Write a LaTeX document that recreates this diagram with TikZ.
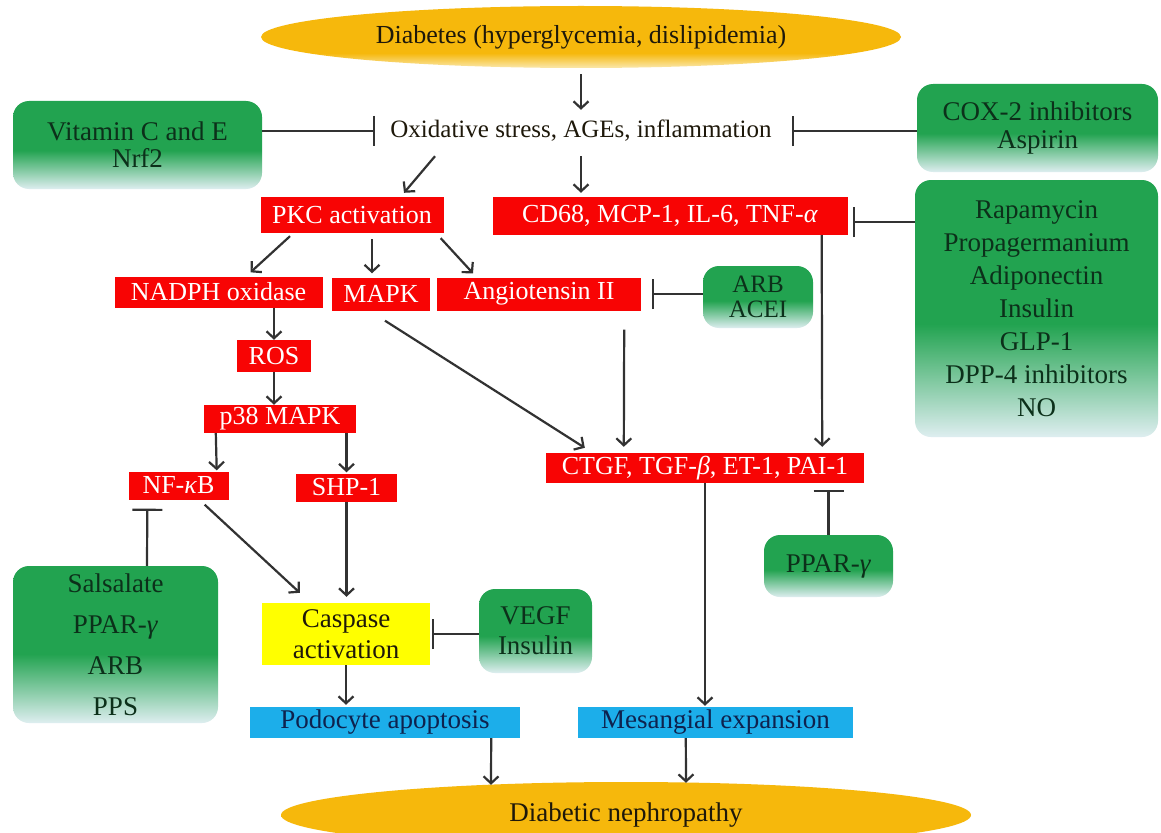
\documentclass[tikz,border=0pt]{standalone}
\usepackage{fontspec}
\setmainfont{Liberation Serif}
\usetikzlibrary{arrows.meta,calc,shapes.geometric}
\definecolor{gmain}{RGB}{34,163,80}
\definecolor{glight}{RGB}{222,238,240}
\definecolor{gtext}{RGB}{12,48,26}
\definecolor{boxred}{RGB}{248,4,4}
\definecolor{boxblue}{RGB}{28,174,234}
\definecolor{bluetext}{RGB}{14,34,78}
\definecolor{boxyellow}{RGB}{255,255,0}
\definecolor{gold}{RGB}{246,184,12}
\definecolor{goldlight}{RGB}{250,228,160}
\definecolor{linec}{RGB}{50,50,50}
\definecolor{darktext}{RGB}{30,24,10}
\pgfdeclareverticalshading{gfade}{100bp}{color(0bp)=(glight); color(25bp)=(glight); color(47bp)=(gmain); color(100bp)=(gmain)}
\pgfdeclareverticalshading{goldfade}{100bp}{color(0bp)=(goldlight); color(26bp)=(goldlight); color(37bp)=(gold); color(100bp)=(gold)}
\tikzset{
  redbox/.style={fill=boxred, text=white, inner sep=0pt, font=\fontsize{26}{28}\selectfont},
  gbox/.style={shade, shading=gfade, rounded corners=16pt, text=gtext, align=center, inner sep=0pt},
  bluebox/.style={fill=boxblue, text=bluetext, inner sep=0pt, font=\fontsize{27}{28}\selectfont},
  ybox/.style={fill=boxyellow, text=darktext, align=center, inner sep=0pt},
  ell/.style={ellipse, shade, shading=goldfade, text=darktext, inner sep=0pt},
  arr/.style={draw=linec, line width=2.2pt, -{Straight Barb[length=7pt,width=15pt]}},
  inh/.style={draw=linec, line width=2.2pt, -{Bar[width=30pt]}},
}
\begin{document}
\begin{tikzpicture}[x=1pt, y=-1pt, font=\fontsize{25}{28}\selectfont]
\fill[white] (0,0) rectangle (1161,832);
\useasboundingbox (0,0) rectangle (1161,832);
\clip (0,0) rectangle (1161,832);

% nodes
\node[ell, minimum width=640, minimum height=62, font=\fontsize{26}{28}\selectfont] (diab) at (581,37) {Diabetes (hyperglycemia, dislipidemia)};
\node[inner sep=0pt, minimum height=30, text=darktext] (ox) at (581,131) {Oxidative stress, AGEs, inflammation};
\node[gbox, minimum width=249, minimum height=88, font=\fontsize{27}{27}\selectfont] (vit) at (137.5,145) {Vitamin C and E\\Nrf2};
\node[gbox, minimum width=241, minimum height=88, font=\fontsize{27}{28}\selectfont] (cox) at (1037.5,128) {COX-2 inhibitors\\Aspirin};
\node[redbox, minimum width=183, minimum height=36] (pkc) at (352,215) {PKC activation};
\node[redbox, minimum width=355, minimum height=38] (cd68) at (670,216) {CD68, MCP-1, IL-6, TNF-\textit{α}};
\node[gbox, minimum width=243, minimum height=257, font=\fontsize{27}{33}\selectfont] (big) at (1036.5,308.5) {Rapamycin\\Propagermanium\\Adiponectin\\Insulin\\GLP-1\\DPP-4 inhibitors\\NO};
\node[redbox, minimum width=208, minimum height=31] (nadph) at (218.5,292) {NADPH oxidase};
\node[redbox, minimum width=98, minimum height=33] (mapk) at (381,294) {MAPK};
\node[redbox, minimum width=204, minimum height=33] (ang) at (539,294) {Angiotensin II};
\node[gbox, minimum width=110, minimum height=62, font=\fontsize{25}{25}\selectfont] (arb) at (758,297) {ARB\\ACEI};
\node[redbox, minimum width=74, minimum height=32] (ros) at (274,356) {ROS};
\node[redbox, minimum width=152, minimum height=28] (p38) at (280,419) {p38 MAPK};
\node[redbox, minimum width=100, minimum height=28] (nfkb) at (178.5,485.5) {NF-\textit{κ}B};
\node[redbox, minimum width=101, minimum height=28] (shp1) at (346.5,487.5) {SHP-1};
\node[redbox, minimum width=318, minimum height=30] (ctgf) at (705,468) {CTGF, TGF-\textit{β}, ET-1, PAI-1};
\node[gbox, minimum width=129, minimum height=62, font=\fontsize{27}{28}\selectfont] (pparR) at (828.5,566) {PPAR-\textit{γ}};
\node[ybox, minimum width=168, minimum height=62, font=\fontsize{27}{31}\selectfont] (casp) at (346,634) {Caspase\\activation};
\node[gbox, minimum width=113, minimum height=84, font=\fontsize{27}{30}\selectfont] (vegf) at (535.5,631) {VEGF\\Insulin};
\node[gbox, minimum width=205, minimum height=157, font=\fontsize{27}{41}\selectfont] (sals) at (115.5,644.5) {Salsalate\\PPAR-\textit{γ}\\ARB\\PPS};
\node[bluebox, minimum width=270, minimum height=31] (podo) at (385,722.5) {Podocyte apoptosis};
\node[bluebox, minimum width=275, minimum height=31] (mes) at (715.5,722.5) {Mesangial expansion};
\node[ell, minimum width=690, minimum height=66, font=\fontsize{27}{28}\selectfont] (neph) at (626,815) {Diabetic nephropathy};

\coordinate (cdin) at ($(cd68.east)+(0,6)$);

% activating arrows
\draw[arr, shorten <=6pt, shorten >=6pt] (diab.south) -- (ox.north);
\draw[arr] ($(ox.south)+(-146,10)$) -- ($(pkc.north)+(52,-4)$);
\draw[arr, shorten <=10pt, shorten >=4pt] (ox.south) -- (ox.south |- cd68.north);
\draw[arr] ($(pkc.south)+(-62,3)$) -- ($(nadph.north)+(32,-4)$);
\draw[arr] ($(pkc.south)+(20,6)$) -- ($(mapk.north)+(-9,-4)$);
\draw[arr] ($(pkc.south east)+(-3,5)$) -- ($(ang.north)+(-66,-4)$);
\draw[arr] (ros.north |- nadph.south) -- (ros.north);
\draw[arr] (ros.south) -- (ros.south |- p38.north);
\draw[arr] ($(p38.south west)+(12,0)$) -- ($(nfkb.north east)+(-12,-1)$);
\draw[arr] (shp1.north |- p38.south) -- ($(shp1.north)+(0,-1)$);
\draw[arr] ($(mapk.south)+(4,10)$) -- ($(ctgf.north west)+(39,-5)$);
\draw[arr] ($(ang.south east)+(-17,19)$) -- ($(ctgf.north west)+(78,-6)$);
\draw[arr] ($(cd68.south east)+(-26,0)$) -- ($(ctgf.north east)+(-42,-6)$);
\draw[arr, shorten >=1pt] (ctgf.south) -- (ctgf.south |- mes.north);
\draw[arr] ($(nfkb.south east)+(-24,5)$) -- ($(casp.north west)+(38,-10)$);
\draw[arr, shorten >=6pt] (shp1.south) -- (shp1.south |- casp.north);
\draw[arr, shorten >=2pt] (casp.south) -- (casp.south |- podo.north);
\draw[arr] ($(podo.south east)+(-29,0)$) -- ($(neph.north)+(-135,3)$);
\draw[arr] ($(mes.south west)+(108,0)$) -- ($(neph.north)+(60,1)$);

% inhibitions
\draw[inh, shorten >=15pt] (vit.east |- ox.west) -- (ox.west);
\draw[inh, shorten >=20pt] (cox.west |- ox.east) -- (ox.east);
\draw[inh, shorten >=5pt] (big.west |- cdin) -- (cdin);
\draw[inh, shorten >=11pt] (arb.west |- ang.east) -- (ang.east);
\draw[inh] (pparR.north) -- ($(pparR.north |- ctgf.south)+(0,7)$);
\draw[inh, shorten >=2pt] (vegf.west |- casp.east) -- (casp.east);
\draw[inh] ($(sals.north)+(31.5,0)$) -- ($(nfkb.south west)+(19,9)$);
\end{tikzpicture}
\end{document}
